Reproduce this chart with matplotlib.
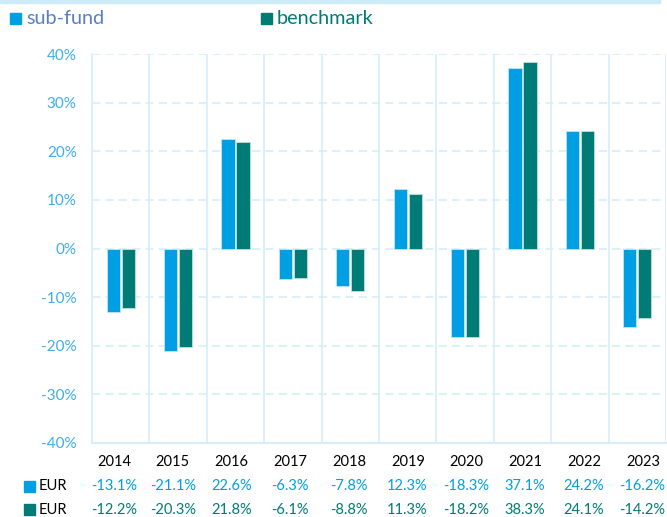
import matplotlib
matplotlib.use("Agg")
import matplotlib.pyplot as plt
from matplotlib.patches import Rectangle
import numpy as np

years = ["2014", "2015", "2016", "2017", "2018", "2019", "2020", "2021", "2022", "2023"]
sub_fund = [-13.1, -21.1, 22.6, -6.3, -7.8, 12.3, -18.3, 37.1, 24.2, -16.2]
benchmark = [-12.2, -20.3, 21.8, -6.1, -8.8, 11.3, -18.2, 38.3, 24.1, -14.2]
yticks = [-40, -30, -20, -10, 0, 10, 20, 30, 40]

C_SUB = "#009FE3"
C_BEN = "#007B76"
C_GRID = "#D6EEF8"
C_TICK = "#3DAEE9"
C_LEG_SUB = "#5A7FC0"

plt.rcParams['font.family'] = ['Lato', 'DejaVu Sans']

W, H = 667, 517
fig = plt.figure(figsize=(W/100, H/100), dpi=100)
ax = fig.add_axes([92/W, 1-443/H, (666-92)/W, (443-54)/H])

n = len(years)
x = np.arange(n)
bw = 0.23
gap = 0.03
ax.bar(x - bw/2 - gap/2, sub_fund, bw, color=C_SUB, edgecolor="#BFE6F7", linewidth=0.6, zorder=3)
ax.bar(x + bw/2 + gap/2, benchmark, bw, color=C_BEN, edgecolor="#BFE0DE", linewidth=0.6, zorder=3)

ax.set_xlim(-0.5, n - 0.5)
ax.set_ylim(-40, 40)
ax.set_yticks(yticks)
ax.set_yticklabels([f"{v}%" for v in yticks], color=C_TICK, fontsize=11)
ax.tick_params(axis='y', length=0, pad=11)
ax.set_xticks([])
for v in yticks:
    if v == -40:
        continue
    ax.axhline(v, color=C_GRID, lw=1.2, ls=(0, (5, 3)), zorder=1)
for b in np.arange(-0.5, n, 1.0):
    ax.axvline(b, color=C_GRID, lw=1.2, zorder=1)
for s in ['top', 'right']:
    ax.spines[s].set_visible(False)
ax.spines['left'].set_color(C_GRID)
ax.spines['bottom'].set_color(C_GRID)
ax.spines['left'].set_linewidth(1.2)
ax.spines['bottom'].set_linewidth(1.5)

# top band
fig.patches.append(Rectangle((0, 1-3/H), 660/W, 3/H, transform=fig.transFigure,
                             color="#CDEBF8", zorder=0))

# legend
fig.patches.append(Rectangle((10/W, 1-24/H), 11/W, 11/H, transform=fig.transFigure, color=C_SUB))
fig.text(26/W, 1-19/H, "sub-fund", color=C_LEG_SUB, fontsize=14.3, va='center', ha='left')
fig.patches.append(Rectangle((261/W, 1-24/H), 11/W, 11/H, transform=fig.transFigure, color=C_BEN))
fig.text(277/W, 1-19/H, "benchmark", color=C_BEN, fontsize=14.3, va='center', ha='left')

# table
ROW1, ROW2 = 486.5, 509.5
for i in range(n):
    fig.text((114 + i * 58.8) / W, 1-462/H, years[i], ha='center', va='center', fontsize=10.5, color='black')
    fig.text((114 + i * 58.7) / W, 1-ROW1/H, f"{sub_fund[i]:.1f}%", ha='center', va='center', fontsize=10.5, color=C_SUB)
    fig.text((114 + i * 58.7) / W, 1-ROW2/H, f"{benchmark[i]:.1f}%", ha='center', va='center', fontsize=10.5, color=C_BEN)

fig.patches.append(Rectangle((24/W, 1-(ROW1+5.5)/H), 11/W, 11/H, transform=fig.transFigure, color=C_SUB))
fig.text(39/W, 1-ROW1/H, "EUR", ha='left', va='center', fontsize=10.5, color='black')
fig.patches.append(Rectangle((24/W, 1-(ROW2+5.5)/H), 11/W, 11/H, transform=fig.transFigure, color=C_BEN))
fig.text(39/W, 1-ROW2/H, "EUR", ha='left', va='center', fontsize=10.5, color='black')

fig.savefig("out.png", dpi=100)
